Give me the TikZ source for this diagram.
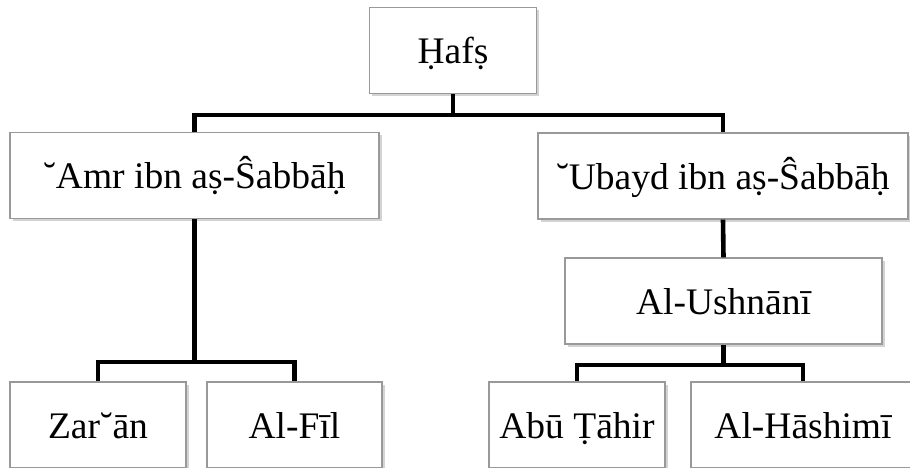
\documentclass[tikz,border=0pt]{standalone}
\usepackage{fontspec}
\setmainfont{Liberation Serif}
\usepackage{tikz}
\usetikzlibrary{shadows}

\tikzset{
  box/.style={draw=black!40, line width=0.7pt, fill=white, inner sep=0pt,
    minimum height=43pt, text height=15pt, text depth=2pt,
    drop shadow={shadow xshift=1.4pt, shadow yshift=-1.4pt, opacity=0.35},
    font=\fontsize{18.75}{22}\selectfont},
  conn/.style={line width=2.3pt}
}

\begin{document}
\begin{tikzpicture}[x=0.5pt,y=-0.5pt]
%%Location
\clip (0,0) rectangle (910,467);
%%Boxes
\node[box, minimum width=83.5pt] (hafs) at (453,50.5) {Ḥafṣ};
\node[box, minimum width=184.5pt] (amr) at (194.5,175.5) {˘Amr ibn aṣ-Ŝabbāḥ};
\node[box, minimum width=185pt] (ubayd) at (723,176) {˘Ubayd ibn aṣ-Ŝabbāḥ};
\node[box, minimum width=158.5pt] (ushnani) at (723.5,301) {Al-Ushnānī};
\node[box, minimum width=88pt] (zaran) at (98,425) {Zar˘ān};
\node[box, minimum width=87.5pt] (alfil) at (294.5,425) {Al-Fīl};
\node[box, minimum width=88pt] (abutahir) at (577,425) {Abū Ṭāhir};
\node[box, minimum width=112pt] (hashimi) at (803,425) {Al-Hāshimī};
%%Bars
\coordinate (bartop) at (0,115);
\coordinate (barleft) at (0,362);
\coordinate (barright) at (0,365);
%%Lines
\draw[conn] (hafs.south) -- (hafs.south |- bartop) -| (amr.north);
\draw[conn] (hafs.south |- bartop) -| (ubayd.north);
\draw[conn] (amr.south) -- (amr.south |- barleft) -| (zaran.north);
\draw[conn] (amr.south |- barleft) -| (alfil.north);
\draw[conn] (ubayd.south) -- (ushnani.north);
\draw[conn] (ushnani.south) -- (ushnani.south |- barright) -| (abutahir.north);
\draw[conn] (ushnani.south |- barright) -| (hashimi.north);
\end{tikzpicture}
\end{document}
